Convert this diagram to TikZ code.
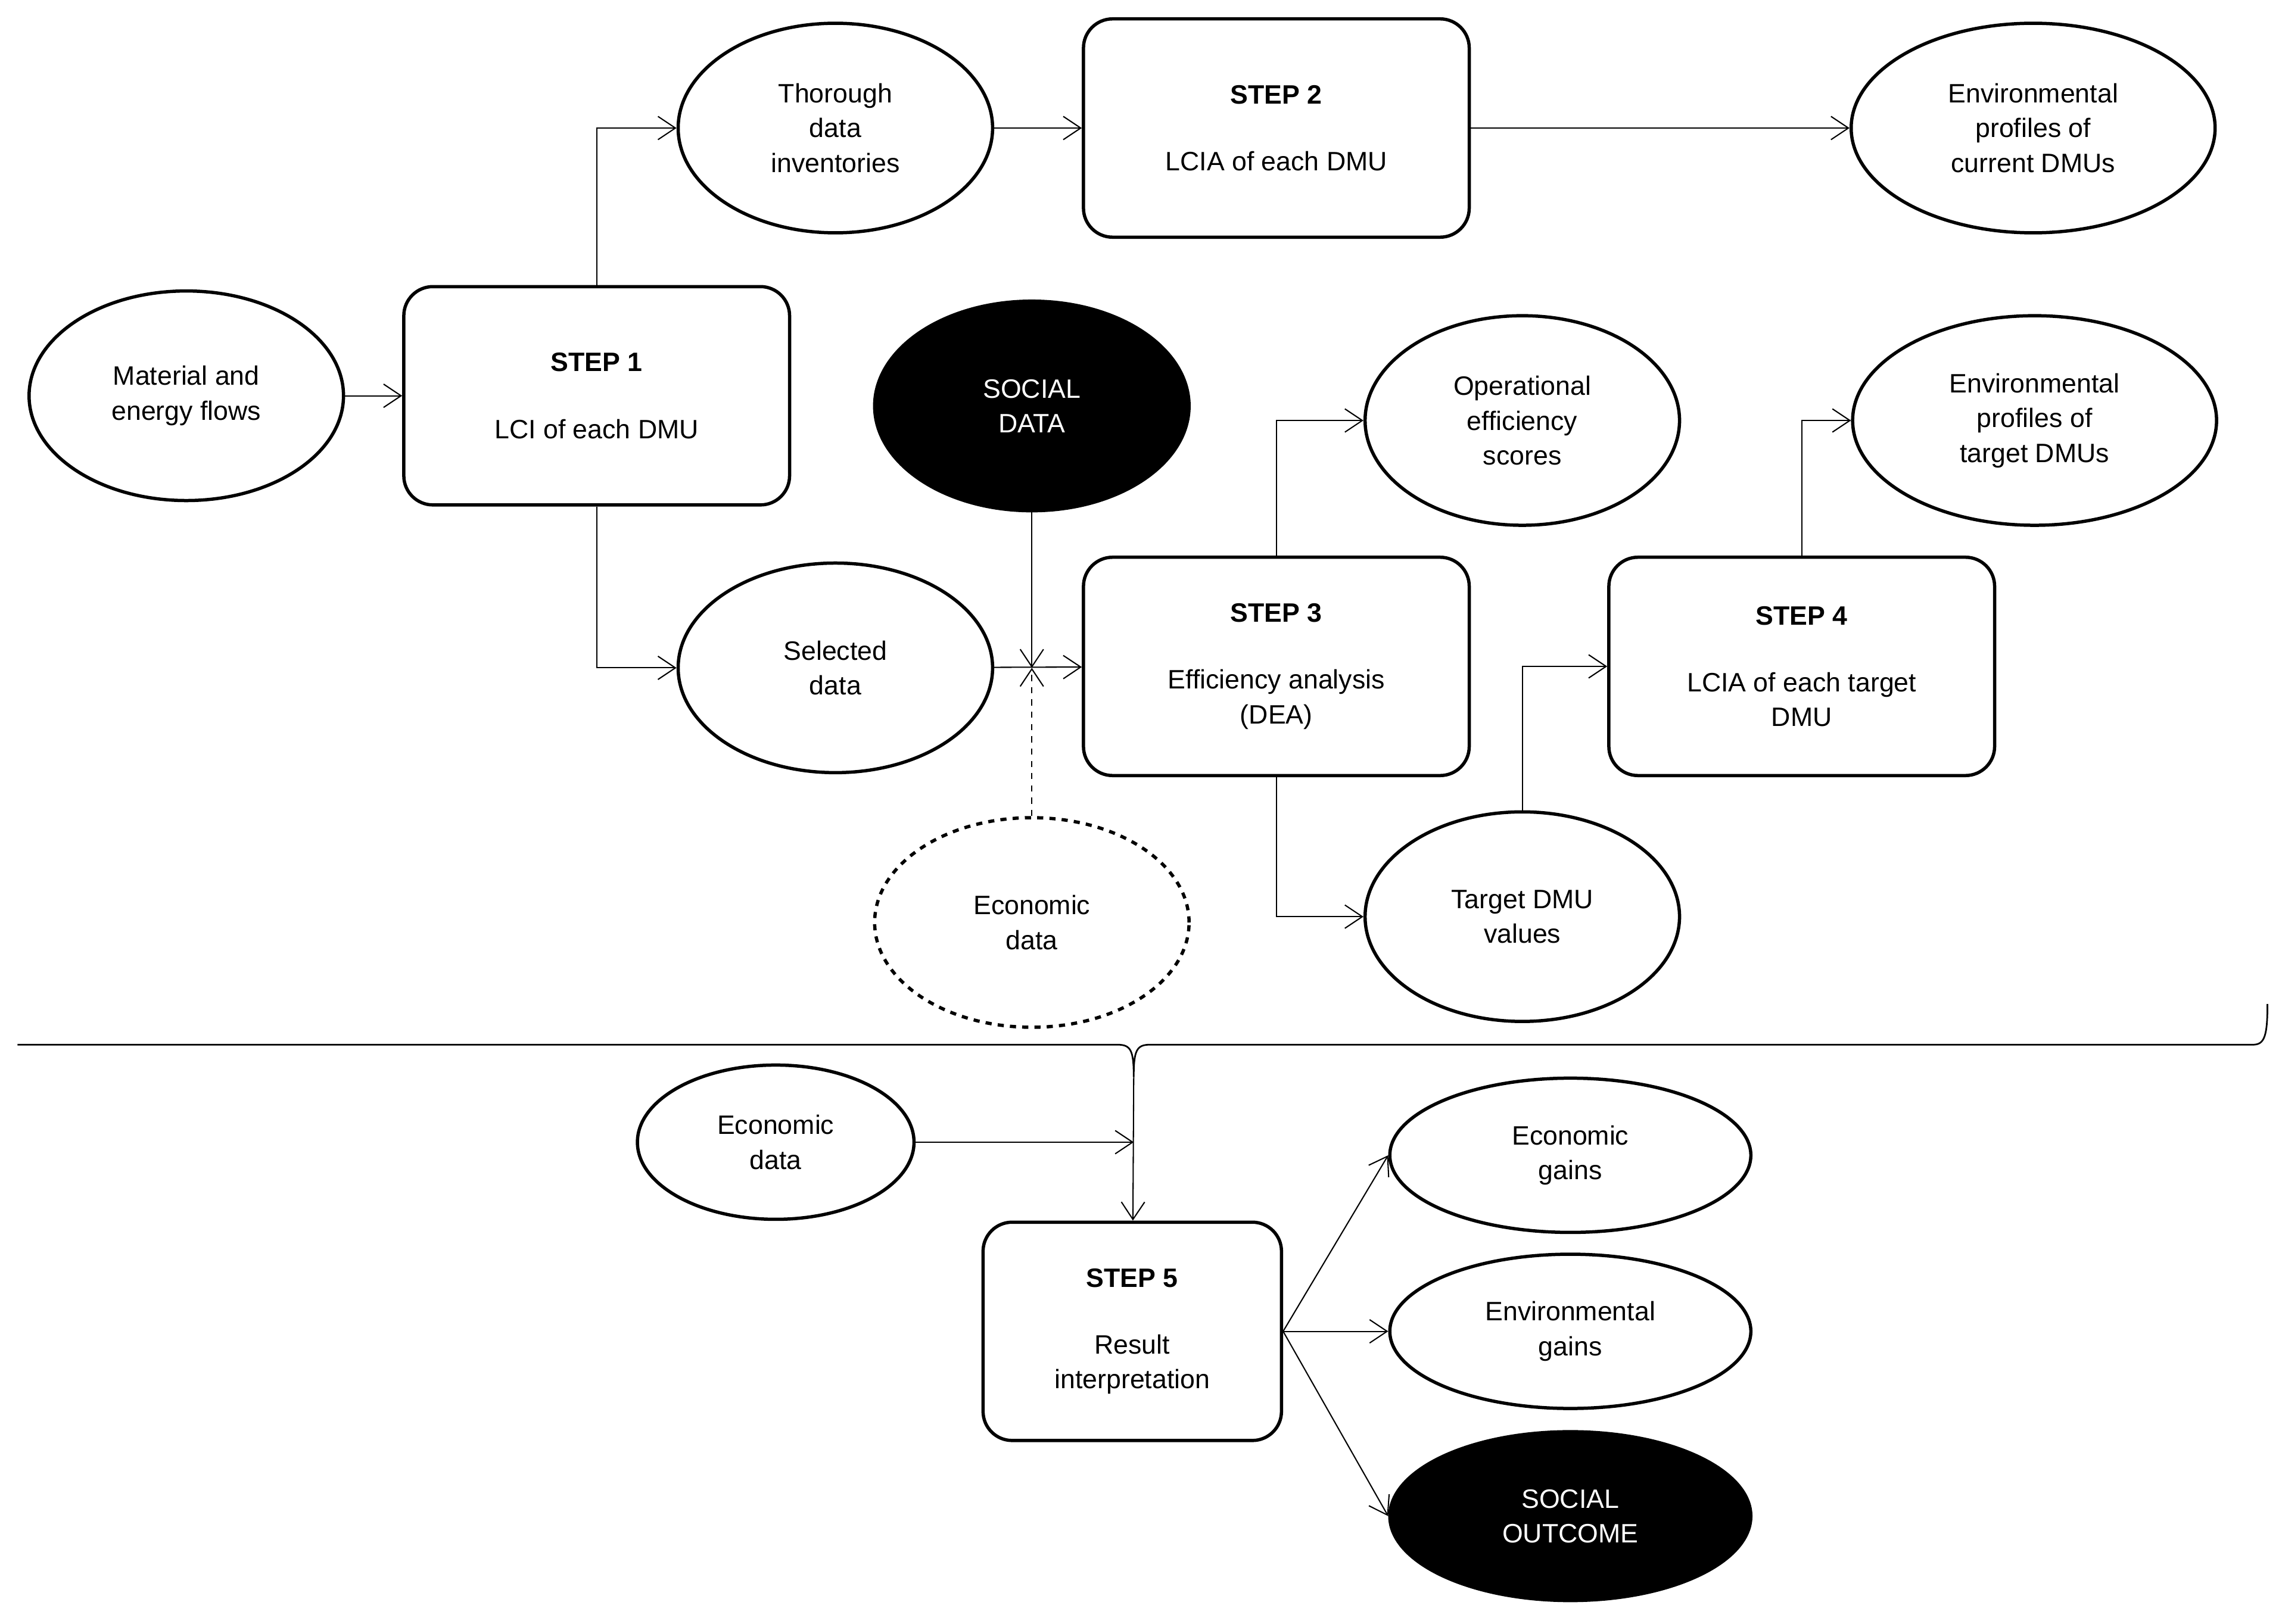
\documentclass[tikz,border=0pt]{standalone}
\usepackage{fontspec}
\setmainfont{Liberation Sans}
\usetikzlibrary{shapes.geometric,arrows.meta}
\begin{document}
\begin{tikzpicture}[x=0.025cm,y=-0.025cm,font=\fontsize{13}{17}\selectfont]
    % Define styles for nodes and arrows
    \tikzstyle{stepbox} = [rectangle, rounded corners=0.5cm, minimum width=6.625cm, minimum height=3.75cm, text centered, align=center, draw=black, line width=1.6pt]
    \tikzstyle{data} = [ellipse, minimum width=5.4cm, minimum height=3.6cm, text centered, align=center, draw=black, line width=1.6pt, inner sep=0pt]
    \tikzstyle{social} = [data, fill=black, text=white]
    \tikzstyle{arrow} = [line width=0.6pt, -{Straight Barb[length=3mm,width=4mm]}]
    \useasboundingbox (0,0) rectangle (1568,1116);
    % Nodes
    \node (flows) [data] at (128,272) {Material and\\energy flows};
    \node (step1) [stepbox] at (410,272) {\textbf{STEP 1}\\[0.55cm]LCI of each DMU};
    \node (thorough) [data] at (574,88) {Thorough\\data\\inventories};
    \node (step2) [stepbox] at (877,88) {\textbf{STEP 2}\\[0.55cm]LCIA of each DMU};
    \node (envcur) [data, minimum width=6.25cm] at (1397,88) {Environmental\\profiles of\\current DMUs};
    \node (socdata) [social] at (709,279) {SOCIAL\\DATA};
    \node (opeff) [data] at (1046,289) {Operational\\efficiency\\scores};
    \node (envtgt) [data, minimum width=6.25cm] at (1398,289) {Environmental\\profiles of\\target DMUs};
    \node (selected) [data] at (574,459) {Selected\\data};
    \node (step3) [stepbox] at (877,458) {\textbf{STEP 3}\\[0.55cm]Efficiency analysis\\(DEA)};
    \node (step4) [stepbox] at (1238,458) {\textbf{STEP 4}\\[0.55cm]LCIA of each target\\DMU};
    \node (ecodash) [data, dashed] at (709,634) {Economic\\data};
    \node (target) [data] at (1046,630) {Target DMU\\values};
    \node (ecodata) [data, minimum width=4.75cm, minimum height=2.65cm] at (533,785) {Economic\\data};
    \node (step5) [stepbox, minimum width=5.125cm] at (778,915) {\textbf{STEP 5}\\[0.55cm]Result\\interpretation};
    \node (ecogain) [data, minimum width=6.2cm, minimum height=2.65cm] at (1079,794) {Economic\\gains};
    \node (envgain) [data, minimum width=6.2cm, minimum height=2.65cm] at (1079,915) {Environmental\\gains};
    \node (socout) [social, minimum width=6.2cm, minimum height=2.9cm] at (1079,1042) {SOCIAL\\OUTCOME};
    \coordinate (join) at (709,459);
    \coordinate (tip) at (779,740);
    \coordinate (merge) at (779,785);
    % Brace
    \draw [line width=0.8pt] (12,718) -- (768,718) .. controls (777,718) and (779,722) .. (tip)
        .. controls (779,722) and (781,718) .. (790,718) -- (1548,718) .. controls (1556,718) and (1558,712) .. (1558,690);
    % Arrows (connections)
    \draw [arrow] (flows) -- (step1);
    \draw [arrow] (step1.north) |- (thorough);
    \draw [arrow] (thorough) -- (step2);
    \draw [arrow] (step2) -- (envcur);
    \draw [arrow] (step1.south) |- (selected);
    \draw [arrow] (selected) -- (step3);
    \draw [arrow] (socdata) -- (join);
    \draw [arrow, dashed] (ecodash) -- (join);
    \draw [arrow] (step3.north) |- (opeff);
    \draw [arrow] (step3.south) |- (target);
    \draw [arrow] (target.north) |- (step4);
    \draw [arrow] (step4.north) |- (envtgt);
    \draw [arrow] (ecodata) -- (merge);
    \draw [arrow] (tip) -- (step5);
    \draw [arrow] (step5.east) -- (ecogain.west);
    \draw [arrow] (step5.east) -- (envgain.west);
    \draw [arrow] (step5.east) -- (socout.west);
\end{tikzpicture}
\end{document}
